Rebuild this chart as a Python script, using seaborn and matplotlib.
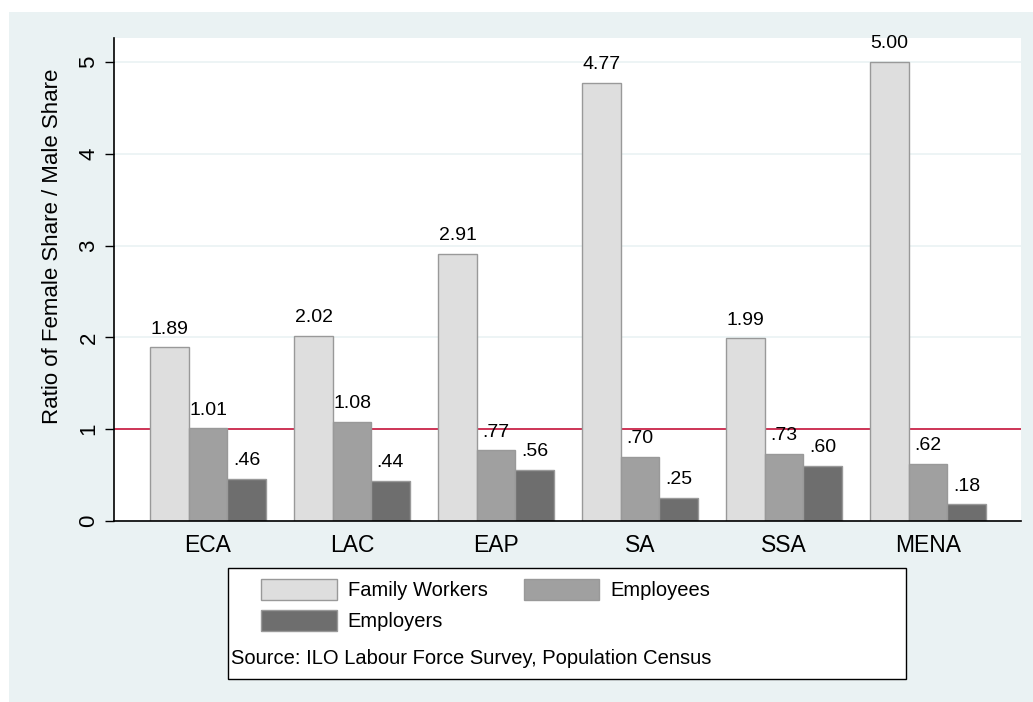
import pandas as pd
import matplotlib.pyplot as plt
import seaborn as sns
from matplotlib.patches import Rectangle

# Data
regions = ["ECA", "LAC", "EAP", "SA", "SSA", "MENA"]
family_workers = [1.89, 2.02, 2.91, 4.77, 1.99, 5.00]
employees = [1.01, 1.08, 0.77, 0.70, 0.73, 0.62]
employers = [0.46, 0.44, 0.56, 0.25, 0.60, 0.18]
series_names = ["Family Workers", "Employees", "Employers"]
colors = ["#DEDEDE", "#A0A0A0", "#6E6E6E"]

df = pd.DataFrame({
    "region": regions * 3,
    "ratio": family_workers + employees + employers,
    "type": [s for s in series_names for _ in regions],
})

sns.set_style("white")
plt.rcParams["font.family"] = ["Liberation Sans", "DejaVu Sans"]
plt.rcParams.update({"text.color": "black", "axes.labelcolor": "black",
                     "xtick.color": "black", "ytick.color": "black"})

W, H = 1033, 702
fig = plt.figure(figsize=(W / 100, H / 100), dpi=100, facecolor="white")

# Stata-like graph region
fig.patches.append(Rectangle((9 / W, 0), 1 - 9 / W, 1 - 12 / H, transform=fig.transFigure,
                             facecolor="#EAF2F3", edgecolor="none", zorder=-10))

ax = fig.add_axes([114 / W, 1 - 521 / H, (1021 - 114) / W, (521 - 38) / H])
ax.set_facecolor("white")

sns.barplot(data=df, x="region", y="ratio", hue="type", palette=colors,
            errorbar=None, edgecolor="#999999", linewidth=1.0, ax=ax)

ax.set_axisbelow(True)
ax.grid(axis="y", color="#EAF2F3", linewidth=1.2)
ax.axhline(1, color="#C8143C", linewidth=1.2, zorder=0.8)

for c in ax.containers:
    ax.bar_label(c, fmt=lambda v: f"{v:.2f}".lstrip("0"), padding=7, fontsize=14, color="black")

ax.set_xlim(-0.653, 5.646)
ax.set_ylim(0, 5.26)
ax.set_yticks([0, 1, 2, 3, 4, 5])
ax.set_yticklabels(["0", "1", "2", "3", "4", "5"], rotation=90, va="center")
ax.tick_params(axis="y", direction="out", length=6.5, width=1, labelsize=16, pad=4, left=True)
ax.tick_params(axis="x", length=0, labelsize=16.5, pad=9)
ax.set_xlabel("")
ax.set_ylabel("Ratio of Female Share / Male Share", fontsize=16, va="center")
ax.yaxis.set_label_coords(-0.068, 0.569)

for s in ["top", "right"]:
    ax.spines[s].set_visible(False)
for s in ["left", "bottom"]:
    ax.spines[s].set_color("black")
    ax.spines[s].set_linewidth(1.2)

# Legend box with source note
fig.patches.append(Rectangle((228 / W, 1 - 679 / H), (906 - 228) / W, (679 - 568) / H,
                             transform=fig.transFigure, facecolor="white",
                             edgecolor="black", linewidth=1.0, zorder=1))
handles, labels = ax.get_legend_handles_labels()
ax.get_legend().remove()
# matplotlib fills columns first, reorder so rows read Family, Employees / Employers
order = [0, 2, 1]
fig.legend([handles[i] for i in order], [labels[i] for i in order], ncol=2, frameon=False,
           loc="upper left", bbox_to_anchor=(261 / W, 1 - 579 / H), bbox_transform=fig.transFigure,
           fontsize=14.5, handlelength=3.75, handleheight=1.2, handletextpad=0.55,
           columnspacing=1.8, labelspacing=0.5, borderpad=0, borderaxespad=0)
fig.text(231 / W, 1 - 658 / H, "Source: ILO Labour Force Survey, Population Census",
         fontsize=14.5, va="center", ha="left")

fig.savefig("out.png", dpi=100, facecolor=fig.get_facecolor())
